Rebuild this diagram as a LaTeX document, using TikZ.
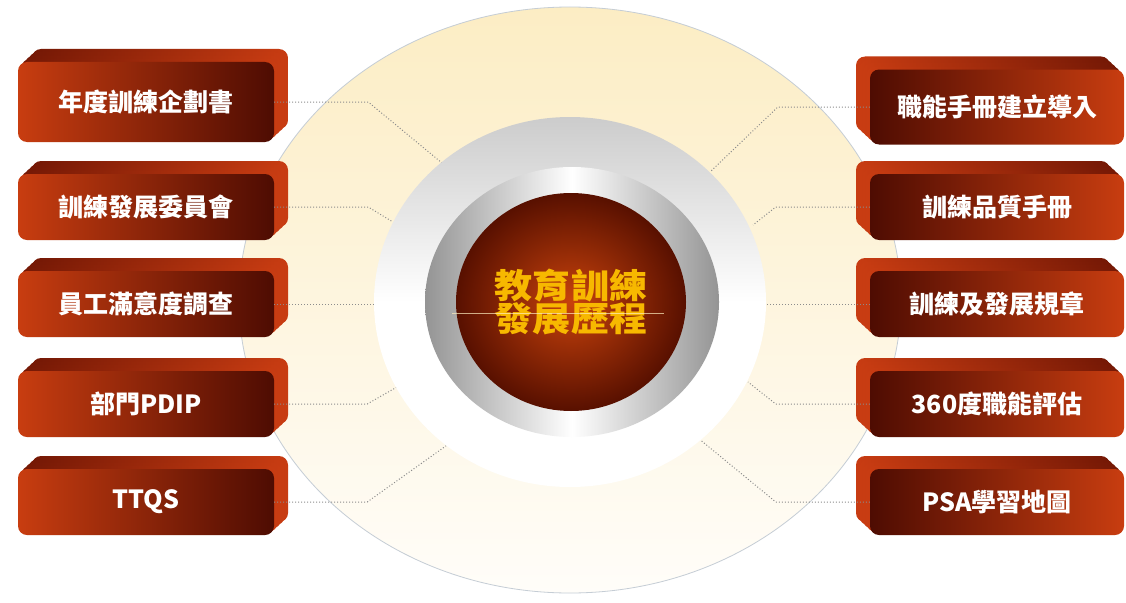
\documentclass[tikz,border=0pt]{standalone}
\usepackage{fontspec}
\newfontfamily\cjkfont{Noto Sans CJK TC}
\usetikzlibrary{shapes.geometric,shadows}

\definecolor{boxlight}{HTML}{C83D10}
\definecolor{boxdark}{HTML}{4E0C02}
\definecolor{rimtop}{HTML}{741805}
\definecolor{rimside}{HTML}{C83C12}
\definecolor{haloyellow}{HTML}{FCEDC4}
\definecolor{halofoot}{HTML}{FFFDF9}
\definecolor{haloline}{HTML}{C5CDD5}
\definecolor{coreglow}{HTML}{C8420C}
\definecolor{coredark}{HTML}{581000}
\definecolor{titlegold}{HTML}{F7B800}
\definecolor{dotgray}{HTML}{8C8C8C}

\begin{document}
\begin{tikzpicture}[x=1pt, y=-1pt,
    box/.style={rectangle, rounded corners=9pt, minimum width=256, minimum height=66,
        inner sep=0pt, text=white, font=\cjkfont\bfseries\fontsize{25}{25}\selectfont},
    leftbox/.style={box, left color=boxlight, right color=boxdark,
        general shadow={shadow xshift=14pt, shadow yshift=13pt, left color=rimtop, right color=rimside},
        general shadow={shadow xshift=10.5pt, shadow yshift=9.75pt, left color=rimtop, right color=rimside},
        general shadow={shadow xshift=7pt, shadow yshift=6.5pt, left color=rimtop, right color=rimside},
        general shadow={shadow xshift=3.5pt, shadow yshift=3.25pt, left color=rimtop, right color=rimside}},
    rightbox/.style={box, minimum width=254, left color=boxdark, right color=boxlight,
        general shadow={shadow xshift=-14pt, shadow yshift=13pt, left color=rimside, right color=rimtop},
        general shadow={shadow xshift=-10.5pt, shadow yshift=9.75pt, left color=rimside, right color=rimtop},
        general shadow={shadow xshift=-7pt, shadow yshift=6.5pt, left color=rimside, right color=rimtop},
        general shadow={shadow xshift=-3.5pt, shadow yshift=3.25pt, left color=rimside, right color=rimtop}},
    link/.style={dotgray, dotted, line width=1pt},
    glint/.style={titlegold!25!white, opacity=0.7, line width=0.5pt}]

    \useasboundingbox[fill=white] (0,0) rectangle (1126,602);

    % Pale halo behind everything
    \node[ellipse, minimum width=662, minimum height=586, draw=haloline, line width=0.8pt,
        top color=haloyellow, bottom color=halofoot] (halo) at (570,300) {};

    % Left boxes
    \node[leftbox, minimum height=80] (plan) at (146,102) {年度訓練企劃書};
    \node[leftbox] (committee) at (146,207) {訓練發展委員會};
    \node[leftbox] (survey) at (146,304) {員工滿意度調查};
    \node[leftbox] (pdip) at (146,404) {部門PDIP};
    \node[leftbox] (ttqs) at (146,502) {TTQS};

    % Right boxes
    \node[rightbox, minimum height=75] (handbook) at (997,107) {職能手冊建立導入};
    \node[rightbox] (quality) at (997,207) {訓練品質手冊};
    \node[rightbox] (rules) at (997,304) {訓練及發展規章};
    \node[rightbox] (review) at (997,404) {360度職能評估};
    \node[rightbox] (psa) at (997,502) {PSA學習地圖};

    % Loose ends of the dotted links
    \coordinate (planend) at (442,163);
    \coordinate (committeeend) at (393,222);
    \coordinate (surveyend) at (377,304);
    \coordinate (pdipend) at (397,387);
    \coordinate (ttqsend) at (450,443);
    \coordinate (handbookend) at (710,172);
    \coordinate (qualityend) at (753,225);
    \coordinate (rulesend) at (767,304);
    \coordinate (reviewend) at (748,382);
    \coordinate (psaend) at (698,438);

    % Dotted links, left side
    \draw[link] (plan.east) -- ++(94,0) -- (planend);
    \draw[link] (committee.east) -- ++(94,0) -- (committeeend);
    \draw[link] (survey.east) -- (surveyend);
    \draw[link] (pdip.east) -- ++(93,0) -- (pdipend);
    \draw[link] (ttqs.east) -- ++(93,0) -- (ttqsend);

    % Dotted links, right side
    \draw[link] (handbook.west) -- ++(-92,0) -- (handbookend);
    \draw[link] (quality.west) -- ++(-94,0) -- (qualityend);
    \draw[link] (rules.west) -- (rulesend);
    \draw[link] (review.west) -- ++(-94,0) -- (reviewend);
    \draw[link] (psa.west) -- ++(-94,0) -- (psaend);

    % Silver rings and the core
    \node[ellipse, minimum width=392, minimum height=370, top color=black!20, bottom color=white, middle color=white] (rimout) at (570,302) {};
    \node[ellipse, minimum width=294, minimum height=270, left color=black!42, right color=black!42, middle color=white] (rimin) at (572,302) {};
    \node[ellipse, minimum width=230, minimum height=218, inner color=coreglow, outer color=coredark] (core) at (571,302) {};

    % Title
    \node[text=titlegold, font=\cjkfont\bfseries\fontsize{34}{33}\selectfont, align=center, xscale=1.12, transform shape] (title) at (core) {教育訓練\\發展歷程};
    \draw[glint] (452,313) -- (664,313);
\end{tikzpicture}
\end{document}
